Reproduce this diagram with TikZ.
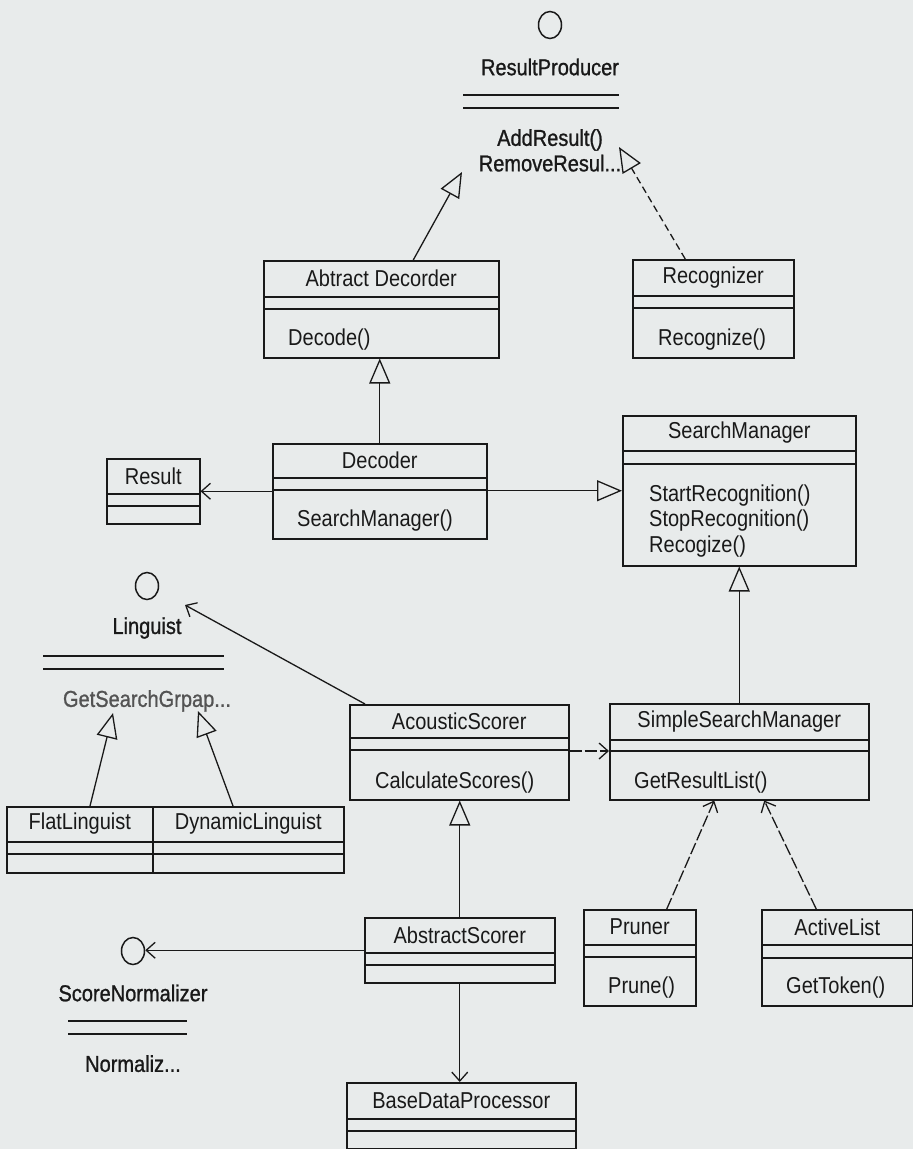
\documentclass[tikz,border=0pt]{standalone}
\usepackage{fontspec}
\setmainfont{Liberation Sans}[FakeStretch=0.87]
\newfontfamily\ifacefont{Liberation Sans}[FakeStretch=0.87, FakeBold=1]
\usetikzlibrary{arrows.meta,calc,shapes.geometric}

\definecolor{scanbg}{RGB}{232,235,235}
\definecolor{ink}{RGB}{25,25,25}

\newcommand{\umlclass}[8]{%
  \node[classframe, minimum width=#4, minimum height=#5] (#1) at (#2,#3) {};
  \draw[frame] ([yshift=-#6]#1.north west) -- ([yshift=-#6]#1.north east)
    ([yshift=-#7]#1.north west) -- ([yshift=-#7]#1.north east);
  \node[classname] (#1-name) at ([yshift={-#6/2}]#1.north) {#8};
}
\newcommand{\umliface}[7]{%
  \node[iface] (#1) at (#2,#3) {};
  \node[classname, font=\ifacefont\fontsize{23}{25.5}\selectfont] (#1-name) at ($(#1)+(0,42)$) {#4};
  \draw[frame] (#5,#3+70) -- (#6,#3+70) (#5,#3+83) -- (#6,#3+83);
  \node[opsc, anchor=north] (#1-ops) at ($(#1)+(0,104)$) {#7};
}

\begin{document}
\begin{tikzpicture}[x=1pt, y=-1pt,
  frame/.style={draw=ink, line width=1.5pt},
  classframe/.style={frame, rectangle, anchor=north west, inner sep=0pt},
  classname/.style={font=\fontsize{23}{25.5}\selectfont, text=ink, inner sep=0pt},
  ops/.style={classname, anchor=west, align=left},
  opsc/.style={classname, font=\ifacefont\fontsize{23}{25.5}\selectfont, align=center},
  iface/.style={frame, ellipse, minimum width=23, minimum height=27, inner sep=0pt},
  gen/.style={frame, line width=1.3pt, -{Triangle[open, length=25pt, width=21pt]}},
  real/.style={gen, dash pattern=on 7pt off 4pt},
  assoc/.style={frame, line width=1.3pt, -{Straight Barb[length=9pt, width=16pt]}},
  dep/.style={assoc, dash pattern=on 12pt off 3pt}]
\useasboundingbox (0,0) rectangle (913,1149);
\fill[scanbg] (0,0) rectangle (913,1149);

\umliface{rp}{550}{25}{ResultProducer}{463}{619}{AddResult()\\RemoveResul...}
\umliface{ling}{147}{586}{Linguist}{43}{224}{\textcolor{ink!75}{GetSearchGrpap...}}
\umliface{sn}{133}{951}{ScoreNormalizer}{68}{187}{Normaliz...}

\umlclass{absdec}{263}{260}{235}{97}{37}{49}{Abtract Decorder}
\umlclass{recog}{632}{259}{161}{98}{37}{49}{Recognizer}
\umlclass{dec}{272}{443}{214}{95}{35}{47}{Decoder}
\umlclass{res}{106}{458}{93}{65}{36}{48}{Result}
\umlclass{sm}{622}{415}{233}{150}{36}{49}{SearchManager}
\umlclass{ac}{349}{704}{219}{95}{34}{46}{AcousticScorer}
\umlclass{ssm}{609}{703}{259}{96}{37}{48}{SimpleSearchManager}
\umlclass{fl}{6}{806}{146}{66}{36}{48}{FlatLinguist}
\umlclass{dl}{152}{806}{191}{66}{36}{48}{DynamicLinguist}
\umlclass{abssc}{364}{917}{190}{65}{36}{48}{AbstractScorer}
\umlclass{bdp}{346}{1082}{229}{66}{37}{49}{BaseDataProcessor}
\umlclass{pr}{583}{909}{112}{96}{36}{48}{Pruner}
\umlclass{al}{761}{909}{151}{96}{36}{49}{ActiveList}

\node[ops] (absdec-ops) at ([xshift=25pt, yshift=-80pt]absdec.north west) {Decode()};
\node[ops] (recog-ops) at ([xshift=26pt, yshift=-81pt]recog.north west) {Recognize()};
\node[ops] (dec-ops) at ([xshift=25pt, yshift=-78pt]dec.north west) {SearchManager()};
\node[ops] (sm-ops) at ([xshift=27pt, yshift=-106pt]sm.north west) {StartRecognition()\\StopRecognition()\\Recogize()};
\node[ops] (ac-ops) at ([xshift=26pt, yshift=-79pt]ac.north west) {CalculateScores()};
\node[ops] (ssm-ops) at ([xshift=25pt, yshift=-80pt]ssm.north west) {GetResultList()};
\node[ops] (pr-ops) at ([xshift=25pt, yshift=-79pt]pr.north west) {Prune()};
\node[ops] (al-ops) at ([xshift=25pt, yshift=-79pt]al.north west) {GetToken()};

\coordinate (rp-gen) at (462,172);
\coordinate (rp-real) at (619,147);
\coordinate (ling-use) at (185,605);
\coordinate (ling-flat) at (113,713);
\coordinate (ling-dyn) at (198,711);
\coordinate (absdec-up) at ([xshift=32pt]absdec.north);
\coordinate (recog-up) at ([xshift=-28pt]recog.north);
\coordinate (fl-up) at ([xshift=84pt]fl.north west);
\coordinate (dl-up) at ([xshift=81pt]dl.north west);
\coordinate (ac-up) at ([xshift=16pt]ac.north west);
\coordinate (ac-out) at ([yshift=-47pt]ac.north east);
\coordinate (pr-up) at ([xshift=27pt]pr.north);
\coordinate (al-up) at ([xshift=-21pt]al.north);
\coordinate (ssm-in1) at ([xshift=-25pt]ssm.south);
\coordinate (ssm-in2) at ([xshift=25pt]ssm.south);

\path
  (absdec-up) edge[gen] (rp-gen)
  (dec.north) edge[gen] (dec.north |- absdec.south)
  (dec.east |- sm.west) edge[gen] (sm.west)
  (ssm.north) edge[gen] (sm.south)
  (abssc.north) edge[gen] (abssc.north |- ac.south)
  (fl-up) edge[gen] (ling-flat)
  (dl-up) edge[gen] (ling-dyn)
  (recog-up) edge[real] (rp-real)
  (dec.west |- res.east) edge[assoc] (res.east)
  (ac-up) edge[assoc] (ling-use)
  (abssc.south) edge[assoc] (abssc.south |- bdp.north)
  (abssc.west) edge[assoc] (abssc.west -| sn.east)
  (ac-out) edge[dep] (ac-out -| ssm.west)
  (pr-up) edge[dep] (ssm-in1)
  (al-up) edge[dep] (ssm-in2);
\end{tikzpicture}
\end{document}
